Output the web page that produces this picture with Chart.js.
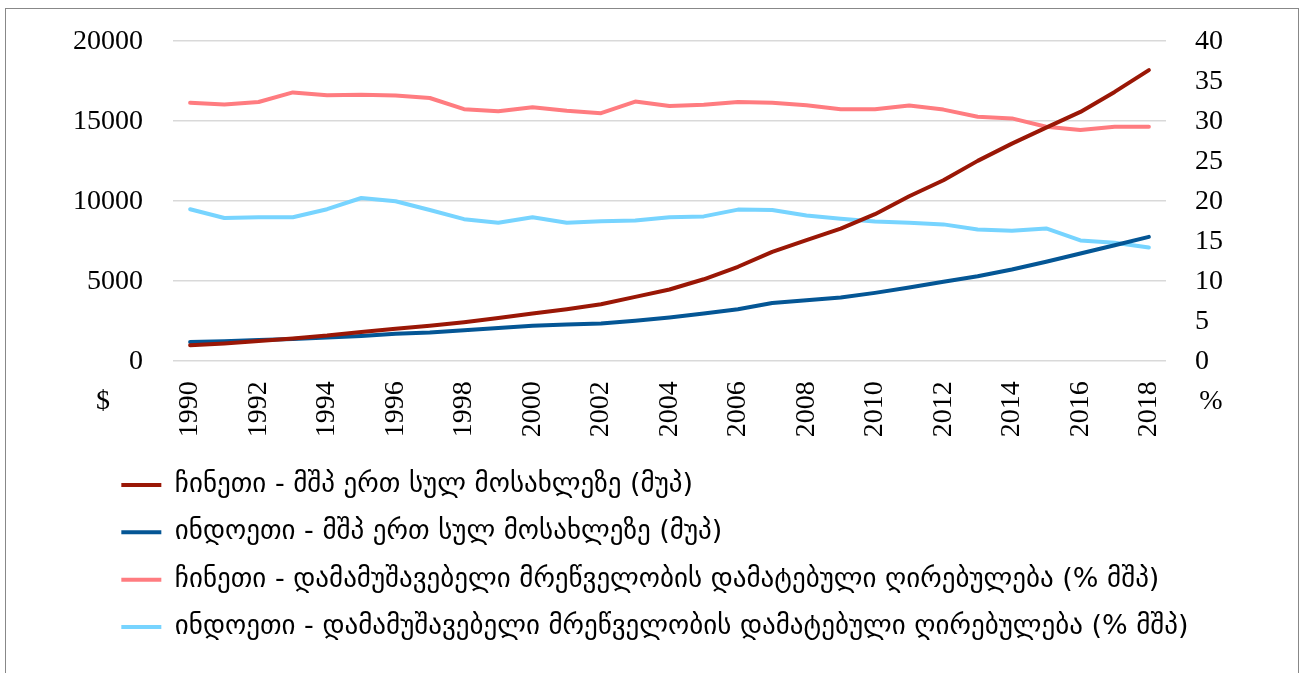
<!DOCTYPE html>
<html>
<head>
<meta charset="utf-8">
<script src="https://cdn.jsdelivr.net/npm/chart.js@4"></script>
<style>
  html, body { margin: 0; padding: 0; background: #fff; }
  #frame { position: absolute; left: 5px; top: 8px; width: 1292px; height: 700px; border: 1px solid #888; }
  #wrap { position: absolute; left: 0; top: 0; width: 1306px; height: 673px; }
</style>
</head>
<body>
<div id="frame"></div>
<div id="wrap"><canvas id="chart"></canvas></div>
<script>
var years = ['1990','1991','1992','1993','1994','1995','1996','1997','1998','1999',
             '2000','2001','2002','2003','2004','2005','2006','2007','2008','2009',
             '2010','2011','2012','2013','2014','2015','2016','2017','2018'];

// $ (left axis)
var chinaGdp = [1000, 1110, 1260, 1420, 1600, 1830, 2020, 2220, 2440, 2700,
                2980, 3250, 3560, 4020, 4480, 5120, 5900, 6830, 7560, 8290,
                9190, 10310, 11310, 12520, 13600, 14600, 15580, 16830, 18190];
var indiaGdp = [1200, 1250, 1320, 1390, 1480, 1580, 1720, 1800, 1940, 2080,
                2210, 2290, 2350, 2520, 2730, 2980, 3250, 3640, 3810, 3980,
                4270, 4600, 4960, 5310, 5730, 6210, 6730, 7250, 7770];

// % (right axis)
var chinaManuf = [32.3, 32.1, 32.4, 33.6, 33.25, 33.3, 33.2, 32.9, 31.5, 31.25,
                  31.75, 31.3, 31.0, 32.45, 31.9, 32.05, 32.4, 32.3, 32.0, 31.5,
                  31.5, 31.95, 31.45, 30.55, 30.35, 29.3, 28.9, 29.3, 29.3];
var indiaManuf = [19.0, 17.9, 18.0, 18.0, 19.0, 20.4, 20.0, 18.9, 17.75, 17.3,
                  18.0, 17.3, 17.5, 17.6, 18.0, 18.1, 18.95, 18.9, 18.2, 17.8,
                  17.45, 17.3, 17.1, 16.45, 16.3, 16.6, 15.1, 14.8, 14.2];

var seriesNames = [
  'ჩინეთი - მშპ ერთ სულ მოსახლეზე (მუპ)',
  'ინდოეთი - მშპ ერთ სულ მოსახლეზე (მუპ)',
  'ჩინეთი - დამამუშავებელი მრეწველობის დამატებული ღირებულება (% მშპ)',
  'ინდოეთი - დამამუშავებელი მრეწველობის დამატებული ღირებულება (% მშპ)'
];

var tickFont = { family: '"Liberation Serif", "Times New Roman", serif', size: 28 };
// tighter line height on value axes so the plot top sits at the 20000 / 40 line
var valueFont = { family: '"Liberation Serif", "Times New Roman", serif', size: 28, lineHeight: 0.8 };

function lineSet(label, data, color, axis) {
  return {
    label: label,
    data: data,
    yAxisID: axis,
    borderColor: color,
    backgroundColor: color,
    borderWidth: 4,
    borderCapStyle: 'round',
    borderJoinStyle: 'round',
    pointRadius: 0,
    pointHoverRadius: 0,
    pointBorderWidth: 4,
    tension: 0,
    fill: false
  };
}

// unit labels under the two value axes, legend nudged right
var extras = {
  id: 'extras',
  afterLayout: function(chart) {
    chart.legend.left = 101;
  },
  afterDraw: function(chart) {
    var ctx = chart.ctx, area = chart.chartArea;
    ctx.save();
    ctx.font = '28px "Liberation Serif", serif';
    ctx.fillStyle = '#000';
    ctx.textAlign = 'center';
    ctx.textBaseline = 'middle';
    ctx.fillText('$', area.left - 70, area.bottom + 40);
    ctx.fillText('%', area.right + 45, area.bottom + 40);
    ctx.restore();
  }
};

new Chart(document.getElementById('chart').getContext('2d'), {
  type: 'line',
  data: {
    labels: years,
    datasets: [
      lineSet(seriesNames[0], chinaGdp, '#9a1706', 'y'),
      lineSet(seriesNames[1], indiaGdp, '#045695', 'y'),
      lineSet(seriesNames[2], chinaManuf, '#ff7c80', 'y1'),
      lineSet(seriesNames[3], indiaManuf, '#77d4ff', 'y1')
    ]
  },
  options: {
    responsive: true,
    maintainAspectRatio: false,
    animation: false,
    layout: { padding: { left: 60, right: 80, top: 36, bottom: 22.5 } },
    plugins: {
      tooltip: { enabled: false },
      legend: {
        position: 'bottom',
        align: 'start',
        labels: {
          usePointStyle: true,
          pointStyle: 'line',
          pointStyleWidth: 40,
          padding: 20.33,
          color: '#000',
          font: { family: '"DejaVu Sans", sans-serif', size: 27 }
        }
      }
    },
    scales: {
      x: {
        offset: true,
        grid: { display: false, drawTicks: false },
        border: { display: false },
        ticks: {
          autoSkip: false,
          maxRotation: 90,
          minRotation: 90,
          padding: 20,
          color: '#000',
          font: tickFont,
          callback: function(v, i) { return i % 2 === 0 ? years[i] : ''; }
        },
        afterFit: function(s) { s.height = 90; }
      },
      y: {
        position: 'left',
        min: 0,
        max: 20000,
        grid: { color: '#d9d9d9', lineWidth: 1.5, drawTicks: false },
        border: { display: false },
        ticks: {
          stepSize: 5000, padding: 30, color: '#000', font: valueFont,
          callback: function(v) { return String(v); }
        },
        afterFit: function(s) { s.width = 113; }
      },
      y1: {
        position: 'right',
        min: 0,
        max: 40,
        grid: { display: false, drawTicks: false },
        border: { display: false },
        ticks: { stepSize: 5, padding: 29, color: '#000', font: valueFont },
        afterFit: function(s) { s.width = 60; }
      }
    }
  },
  plugins: [extras]
});
</script>
</body>
</html>
